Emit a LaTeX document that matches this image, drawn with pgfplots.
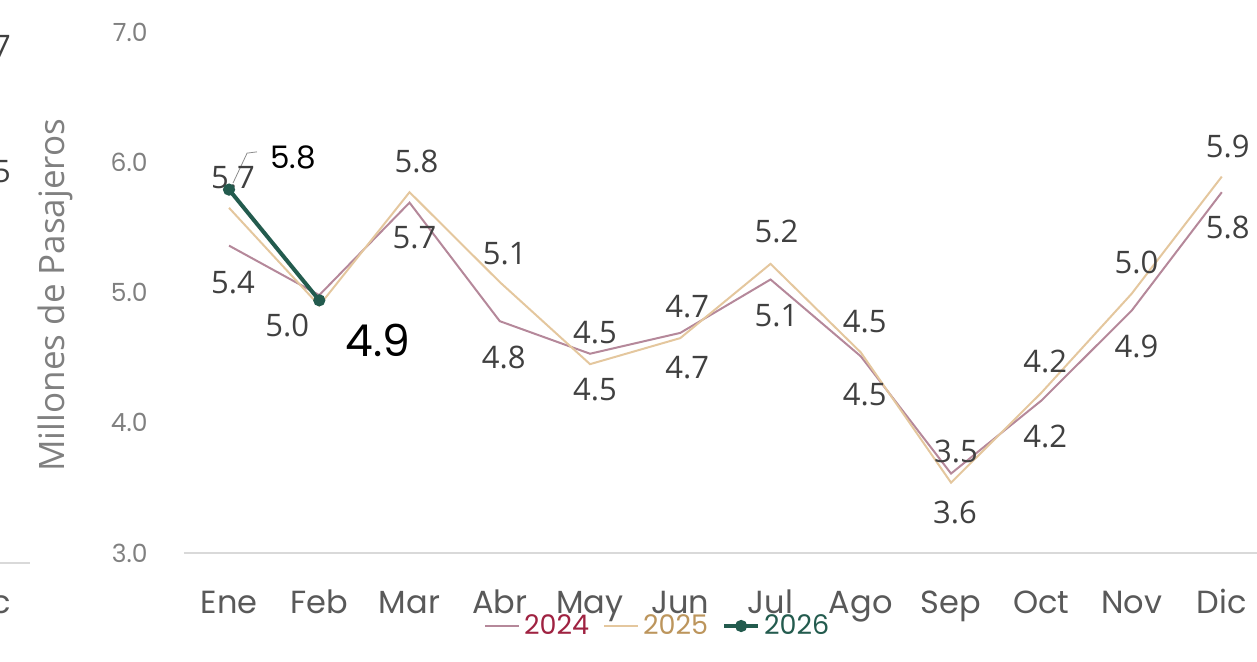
\documentclass[border=0pt]{standalone}
\usepackage{pgfplots}
\pgfplotsset{compat=1.18}
\usepackage{pgfplotstable}
\usepackage{fontspec}
\setmainfont{Poppins}
\newfontfamily\labelfont{Open Sans}

\definecolor{c24}{RGB}{181,136,154}
\definecolor{c25}{RGB}{228,199,158}
\definecolor{c26}{RGB}{35,91,78}
\definecolor{t24}{RGB}{159,34,65}
\definecolor{t25}{RGB}{188,149,92}
\definecolor{lbl}{RGB}{64,64,64}

% x = month index, dx/dy = label offset in pt
\pgfplotstableread{
x y label dx dy
0 5.36 5.4 2 -18.5
1 4.98 5.0 -16 -15
2 5.69 5.7 2.5 -17.5
3 4.78 4.8 2 -18
4 4.53 4.5 2.5 -18
5 4.69 4.7 3.5 -17.5
6 5.10 5.1 3 -18
7 4.51 4.5 2 -19
8 3.61 3.6 2 -19.5
9 4.17 4.2 2 -18
10 4.86 4.9 2.5 -18
11 5.77 5.8 3 -17.5
}\datoscuatro

\pgfplotstableread{
x y label dx dy
0 5.65 5.7 2 15
1 4.90 {} 0 0
2 5.77 5.8 3.5 15.5
3 5.08 5.1 2.5 14
4 4.45 4.5 2.5 16
5 4.65 4.7 3.5 16
6 5.22 5.2 3 16
7 4.54 4.5 2 15.5
8 3.54 3.5 2.5 15.5
9 4.23 4.2 2 15.5
10 4.99 5.0 2.5 15.5
11 5.89 5.9 3 15
}\datoscinco

\pgfplotstableread{
x y label dx dy fs
0 5.79 5.8 32 16 15.5
1 4.94 4.9 29.5 -20 22
}\datosseis

\begin{document}
\begin{tikzpicture}
\path[use as bounding box, clip] (-91.95pt,-54pt) rectangle (536.55pt,276.5pt);
\begin{axis}[
    scale only axis,
    width=536.55pt, height=260.5pt,
    xmin=-0.5, xmax=11.39,
    ymin=3, ymax=7,
    axis x line*=bottom,
    axis y line*=left,
    x axis line style={draw=black!15, line width=0.75pt, -},
    y axis line style={draw=none},
    major tick length=0pt,
    xtick={0,...,11},
    xticklabels={Ene,Feb,Mar,Abr,May,Jun,Jul,Ago,Sep,Oct,Nov,Dic},
    xticklabel style={anchor=base, yshift=-30pt, text=black!65,
      font=\fontsize{16}{16}\selectfont},
    ytick={3,4,5,6,7},
    yticklabel style={anchor=east, inner sep=0pt, xshift=-18pt,
      text=black!50, font=\fontsize{12.5}{12.5}\selectfont,
      /pgf/number format/.cd, fixed, fixed zerofill, precision=1,
      assume math mode=true},
    ylabel={Millones de Pasajeros},
    every axis y label/.style={at={(axis description cs:-0.1202,0.495)},
      rotate=90, anchor=center, text=black!50,
      font=\labelfont\fontsize{17.5}{17.5}\selectfont},
    legend style={at={(0.4425,0)}, anchor=center, yshift=-36.5pt,
      draw=none, fill=none, legend columns=-1, inner sep=0pt,
      font=\fontsize{13.5}{13.5}\selectfont,
      /tikz/every even column/.append style={column sep=5pt}},
    legend image code/.code={
      \draw[#1,mark repeat=2,mark phase=2] plot coordinates {(0pt,0pt) (8.5pt,0pt) (17pt,0pt)};},
    point meta=explicit symbolic,
    visualization depends on={\thisrow{dx} \as \dx},
    visualization depends on={\thisrow{dy} \as \dy},
    every node near coord/.append style={anchor=center,
      xshift=\dx pt, yshift=\dy pt},
]
\addplot[c24, line width=1pt, no markers, nodes near coords,
  every node near coord/.append style={text=lbl,
    font=\labelfont\fontsize{15.5}{15.5}\selectfont}]
  table[x=x, y=y, meta=label] {\datoscuatro};
\addplot[c25, line width=1pt, no markers, nodes near coords,
  every node near coord/.append style={text=lbl,
    font=\labelfont\fontsize{15.5}{15.5}\selectfont}]
  table[x=x, y=y, meta=label] {\datoscinco};
\addplot[c26, line width=2pt, mark=*, mark size=2pt,
  mark options={solid, fill=c26},
  visualization depends on={\thisrow{fs} \as \fs},
  nodes near coords,
  every node near coord/.append style={text=black,
    font=\fontsize{\fs}{\fs}\selectfont}]
  table[x=x, y=y, meta=label] {\datosseis};
\draw[black!45, line width=0.4pt] (axis cs:0.044,5.84) -- (axis cs:0.2,6.07) -- (axis cs:0.31,6.08);
\legend{\textcolor{t24}{2024}, \textcolor{t25}{2025}, \textcolor{c26}{2026}}
\end{axis}
% fragments of the neighbouring chart at the left edge
\node[text=lbl, font=\labelfont\fontsize{15.5}{15.5}\selectfont] at (-91pt,253.5pt) {7};
\node[text=lbl, font=\labelfont\fontsize{15.5}{15.5}\selectfont] at (-91pt,190.5pt) {5};
\node[text=black!65, font=\fontsize{16}{16}\selectfont] at (-91.5pt,-26pt) {c};
\draw[black!15, line width=0.75pt] (-91.95pt,-5pt) -- (-77pt,-5pt);
\end{tikzpicture}
\end{document}
